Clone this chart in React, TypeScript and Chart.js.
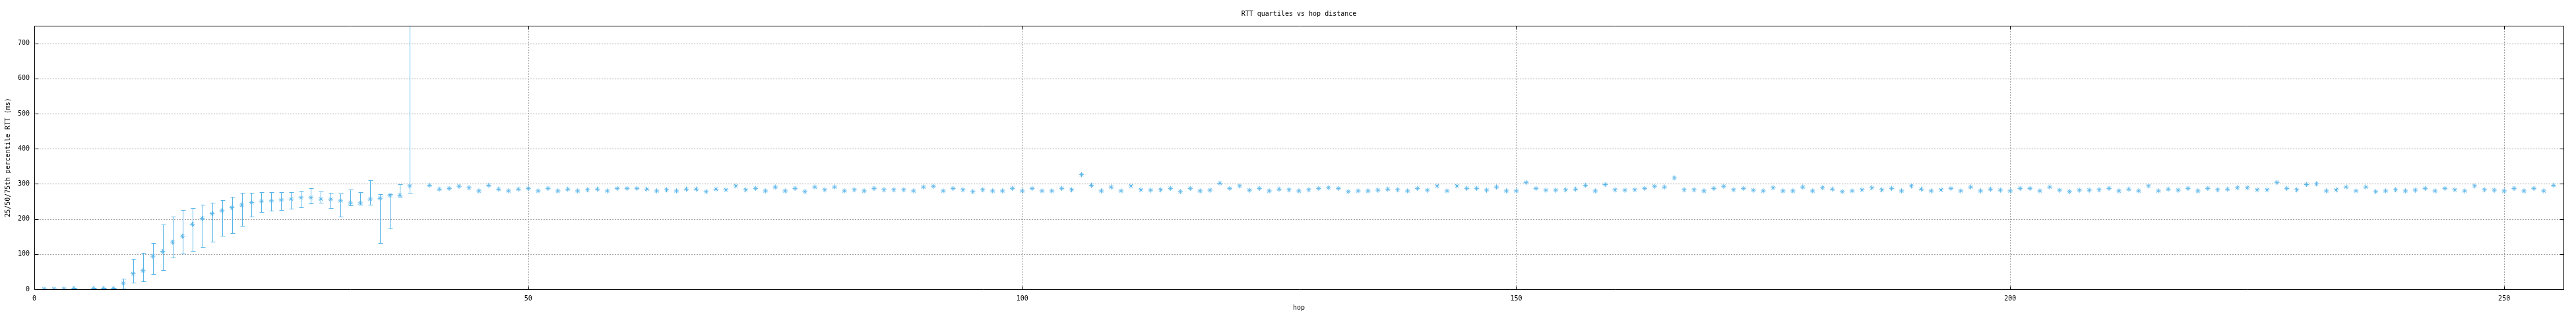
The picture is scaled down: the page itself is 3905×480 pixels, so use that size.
import { useEffect, useRef } from "react";
import { Chart, registerables } from "chart.js";

Chart.register(...registerables);

// Hops with visible error bars (hop 5 missing)
const hopsEarly = [1, 2, 3, 4, 6, 7, 8, 9, 10, 11, 12, 13, 14, 15, 16, 17, 18, 19, 20, 21, 22, 23, 24, 25, 26, 27, 28, 29, 30, 31, 32, 33, 34, 35, 36, 37, 38];
const mediansEarly = [0.5, 0.5, 0.5, 2.5, 2.5, 2.5, 2.5, 17, 44, 53, 94, 108, 134, 151, 185, 202, 215, 224, 232, 240, 247, 251, 252, 254, 257, 261, 261, 257, 256, 252, 246, 246, 257, 259, 267, 268, 294];
const q1Early = [0, 0, 0, 1.5, 1.5, 1.5, 1.5, 2, 19, 23, 43, 55, 91, 101, 109, 121, 136, 153, 160, 181, 207, 219, 223, 225, 229, 234, 244, 246, 231, 206, 238, 240, 240, 131, 172, 263, 274];
const q3Early = [1, 1, 1, 3.5, 3.5, 3.5, 3.5, 31, 87, 103, 132, 185, 206, 226, 232, 240, 247, 253, 264, 274, 275, 277, 276, 276, 277, 281, 287, 279, 274, 272, 283, 276, 311, 270, 270, 299, 900];

// Hops 40..255 (hop 39 missing)
const hopsLate = [
  40, 41, 42, 43, 44, 45, 46, 47, 48, 49,
  50, 51, 52, 53, 54, 55, 56, 57, 58, 59,
  60, 61, 62, 63, 64, 65, 66, 67, 68, 69,
  70, 71, 72, 73, 74, 75, 76, 77, 78, 79,
  80, 81, 82, 83, 84, 85, 86, 87, 88, 89,
  90, 91, 92, 93, 94, 95, 96, 97, 98, 99,
  100, 101, 102, 103, 104, 105, 106, 107, 108, 109,
  110, 111, 112, 113, 114, 115, 116, 117, 118, 119,
  120, 121, 122, 123, 124, 125, 126, 127, 128, 129,
  130, 131, 132, 133, 134, 135, 136, 137, 138, 139,
  140, 141, 142, 143, 144, 145, 146, 147, 148, 149,
  150, 151, 152, 153, 154, 155, 156, 157, 158, 159,
  160, 161, 162, 163, 164, 165, 166, 167, 168, 169,
  170, 171, 172, 173, 174, 175, 176, 177, 178, 179,
  180, 181, 182, 183, 184, 185, 186, 187, 188, 189,
  190, 191, 192, 193, 194, 195, 196, 197, 198, 199,
  200, 201, 202, 203, 204, 205, 206, 207, 208, 209,
  210, 211, 212, 213, 214, 215, 216, 217, 218, 219,
  220, 221, 222, 223, 224, 225, 226, 227, 228, 229,
  230, 231, 232, 233, 234, 235, 236, 237, 238, 239,
  240, 241, 242, 243, 244, 245, 246, 247, 248, 249,
  250, 251, 252, 253, 254, 255,
];
const mediansLate = [
  296, 285, 287, 293, 289, 280, 296, 285, 280, 285,
  287, 280, 287, 280, 285, 280, 283, 285, 280, 287,
  287, 287, 285, 280, 283, 280, 285, 285, 278, 285,
  283, 294, 283, 287, 280, 291, 280, 287, 278, 291,
  283, 291, 280, 283, 280, 287, 283, 283, 283, 280,
  291, 293, 280, 287, 283, 278, 283, 280, 280, 287,
  280, 287, 280, 280, 287, 283, 326, 296, 280, 291,
  280, 294, 283, 282, 283, 287, 278, 287, 280, 282,
  302, 287, 294, 282, 287, 280, 285, 283, 280, 283,
  287, 289, 287, 278, 280, 280, 282, 285, 283, 280,
  287, 282, 294, 280, 294, 287, 287, 282, 291, 280,
  280, 304, 287, 282, 282, 283, 285, 296, 280, 298,
  283, 282, 283, 287, 293, 291, 317, 283, 283, 280,
  287, 293, 283, 287, 282, 280, 289, 280, 280, 291,
  280, 289, 285, 278, 280, 283, 289, 283, 287, 280,
  294, 285, 280, 283, 287, 280, 291, 280, 285, 282,
  280, 287, 287, 280, 291, 282, 278, 282, 282, 283,
  287, 280, 285, 280, 294, 280, 285, 282, 287, 280,
  287, 283, 285, 289, 289, 283, 283, 304, 287, 283,
  298, 300, 280, 283, 291, 280, 291, 278, 280, 283,
  280, 282, 287, 280, 287, 283, 280, 294, 283, 282,
  280, 287, 280, 287, 280, 296,
];

const xTicks = [0, 50, 100, 150, 200, 250];
const yTicks = [0, 100, 200, 300, 400, 500, 600, 700];

const COLOR = "#56B4E9";
const FONT = "'DejaVu Sans Mono', monospace";

const gnuplotFrame = {
  id: "gnuplotFrame",
  beforeDatasetsDraw(chart: any) {
    const { ctx, chartArea: a, scales } = chart;
    const x = scales.x;
    const y = scales.y;
    ctx.save();
    // dashed grid
    ctx.strokeStyle = "#a0a0a0";
    ctx.lineWidth = 1;
    ctx.setLineDash([2, 2]);
    x.ticks.forEach((t: any) => {
      if (t.value <= x.min || t.value >= x.max) return;
      const px = Math.round(x.getPixelForValue(t.value)) + 0.5;
      ctx.beginPath();
      ctx.moveTo(px, a.top);
      ctx.lineTo(px, a.bottom);
      ctx.stroke();
    });
    y.ticks.forEach((t: any) => {
      if (t.value <= y.min || t.value >= y.max) return;
      const py = Math.round(y.getPixelForValue(t.value)) + 0.5;
      ctx.beginPath();
      ctx.moveTo(a.left, py);
      ctx.lineTo(a.right, py);
      ctx.stroke();
    });
    ctx.setLineDash([]);
    // error bars
    ctx.beginPath();
    ctx.rect(a.left, a.top, a.right - a.left, a.bottom - a.top);
    ctx.clip();
    ctx.strokeStyle = COLOR;
    ctx.lineWidth = 1;
    hopsEarly.forEach((h, i) => {
      const px = Math.round(x.getPixelForValue(h)) + 0.5;
      const p1 = Math.round(y.getPixelForValue(q1Early[i])) + 0.5;
      const p3 = Math.round(y.getPixelForValue(q3Early[i])) + 0.5;
      ctx.beginPath();
      ctx.moveTo(px, p1);
      ctx.lineTo(px, p3);
      ctx.moveTo(px - 3, p1);
      ctx.lineTo(px + 4, p1);
      ctx.moveTo(px - 3, p3);
      ctx.lineTo(px + 4, p3);
      ctx.stroke();
    });
    ctx.restore();
  },
  afterDatasetsDraw(chart: any) {
    const { ctx, chartArea: a, scales } = chart;
    const x = scales.x;
    const y = scales.y;
    ctx.save();
    ctx.strokeStyle = "#000";
    ctx.lineWidth = 1;
    const L = Math.round(a.left) + 0.5;
    const R = Math.round(a.right) + 0.5;
    const T = Math.round(a.top) + 0.5;
    const B = Math.round(a.bottom) + 0.5;
    ctx.beginPath();
    ctx.rect(L, T, R - L, B - T);
    ctx.stroke();
    ctx.beginPath();
    x.ticks.forEach((t: any) => {
      const px = Math.round(x.getPixelForValue(t.value)) + 0.5;
      ctx.moveTo(px, B);
      ctx.lineTo(px, B - 5);
      ctx.moveTo(px, T);
      ctx.lineTo(px, T + 5);
    });
    y.ticks.forEach((t: any) => {
      const py = Math.round(y.getPixelForValue(t.value)) + 0.5;
      ctx.moveTo(L, py);
      ctx.lineTo(L + 6, py);
      ctx.moveTo(R, py);
      ctx.lineTo(R - 6, py);
    });
    ctx.stroke();
    ctx.restore();
  },
};

export default function App() {
  const ref = useRef<HTMLCanvasElement | null>(null);

  useEffect(() => {
    document.body.style.margin = "0";
    document.body.style.overflow = "hidden";
    const canvas = ref.current;
    if (!canvas) return;
    const points = [
      ...hopsEarly.map((h, i) => ({ x: h, y: mediansEarly[i] })),
      ...hopsLate.map((h, i) => ({ x: h, y: mediansLate[i] })),
    ];
    const chart = new Chart(canvas, {
      type: "scatter",
      data: {
        datasets: [
          {
            label: "median",
            data: points,
            pointStyle: "star",
            pointRadius: 3.8,
            pointBorderWidth: 1,
            borderColor: COLOR,
            backgroundColor: COLOR,
            showLine: false,
          },
        ],
      },
      plugins: [gnuplotFrame],
      options: {
        animation: false,
        responsive: false,
        devicePixelRatio: 1,
        layout: { padding: { left: 0, right: 19, top: 0, bottom: 0 } },
        plugins: {
          legend: { display: false },
          tooltip: { enabled: false },
          title: {
            display: true,
            text: "RTT quartiles vs hop distance",
            color: "#000",
            fullSize: false,
            font: { family: FONT, size: 10, weight: "normal", lineHeight: 1.2 },
            padding: { top: 15, bottom: 12 },
          },
        },
        scales: {
          x: {
            type: "linear",
            min: 0,
            max: 256,
            grid: { display: false, drawTicks: false },
            border: { display: false },
            afterBuildTicks: (s: any) => {
              s.ticks = xTicks.map((v) => ({ value: v }));
            },
            afterFit: (s: any) => {
              s.height = 42;
            },
            ticks: {
              color: "#000",
              padding: 8,
              maxRotation: 0,
              autoSkip: false,
              font: { family: FONT, size: 10, lineHeight: 1.2 },
            },
            title: {
              display: true,
              text: "hop",
              color: "#000",
              font: { family: FONT, size: 10, lineHeight: 1.2 },
              padding: { top: 0, bottom: 8 },
            },
          },
          y: {
            type: "linear",
            min: 0,
            max: 750,
            grid: { display: false, drawTicks: false },
            border: { display: false },
            afterBuildTicks: (s: any) => {
              s.ticks = yTicks.map((v) => ({ value: v }));
            },
            afterFit: (s: any) => {
              s.width = 52;
            },
            ticks: {
              color: "#000",
              padding: 7,
              autoSkip: false,
              font: { family: FONT, size: 10, lineHeight: 1.2 },
            },
            title: {
              display: true,
              text: "25/50/75th percentile RTT (ms)",
              color: "#000",
              font: { family: FONT, size: 10, lineHeight: 1.2 },
              padding: { top: 6, bottom: 0 },
            },
          },
        },
      },
    } as any);
    return () => chart.destroy();
  }, []);

  return (
    <canvas
      ref={ref}
      width={3905}
      height={480}
      style={{ display: "block", width: "3905px", height: "480px" }}
    />
  );
}
